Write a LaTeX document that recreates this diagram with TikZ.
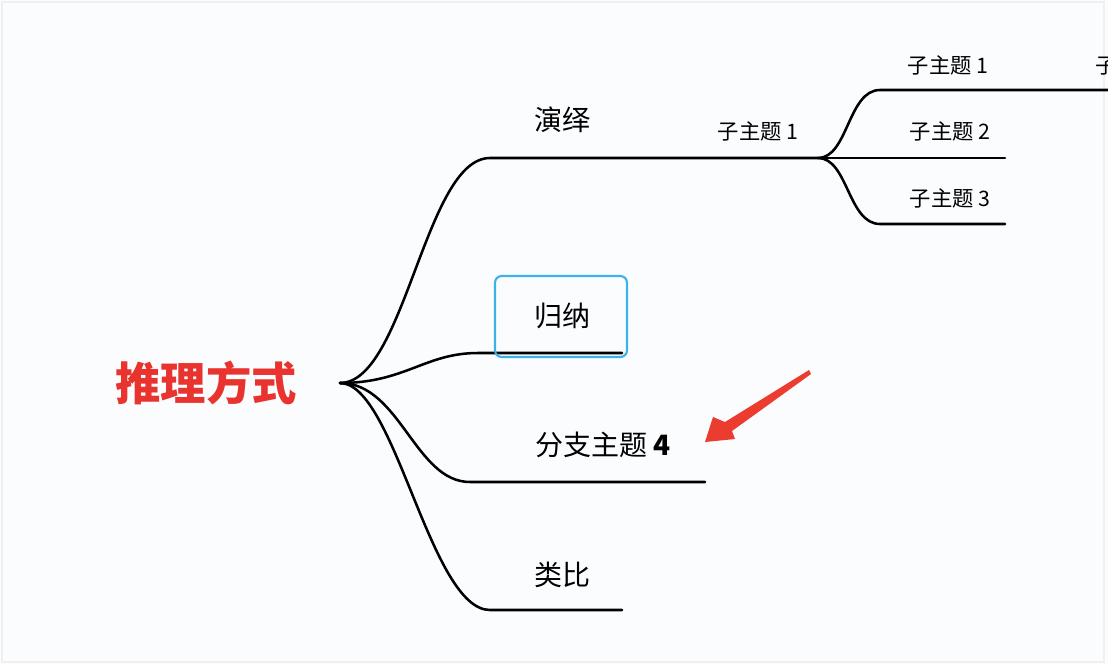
\documentclass[tikz,border=0pt]{standalone}
\usepackage{fontspec}
\setmainfont{Noto Sans CJK SC}
\usepackage{xcolor}

\definecolor{rootred}{HTML}{E8332E}
\definecolor{selblue}{HTML}{3DB2E8}
\definecolor{arrowred}{HTML}{EC3B2F}
\definecolor{paper}{HTML}{FBFCFE}

\tikzset{
    branch/.style={line width=1.9pt, line cap=round},
    maintext/.style={inner sep=0.75pt, font=\fontsize{21}{24}\selectfont},
    subtext/.style={inner sep=0.75pt, font=\fontsize{16}{19}\selectfont},
}

\begin{document}
\begin{tikzpicture}[x=0.75pt,y=0.75pt,yscale=-1,xscale=1]
    % frame of the picture
    \useasboundingbox (0,0) rectangle (1108,664);
    \fill[paper] (0,0) rectangle (1108,664);
    \draw[gray!12, line width=0.8pt] (2,2) rectangle (1104,662);

    % Root
    \node (root) at (206,383) [inner sep=0.75pt] [font=\fontsize{34}{37}\selectfont\bfseries, text=rootred] {推理方式};
    \coordinate (hub) at (340,383);

    % Ends of the main branches
    \coordinate (deduct) at (490,158);
    \coordinate (deductEnd) at (818,158);
    \coordinate (induct) at (478,353);
    \coordinate (inductEnd) at (622,353);
    \coordinate (branchFour) at (470,482);
    \coordinate (branchFourEnd) at (705,482);
    \coordinate (analog) at (490,610);
    \coordinate (analogEnd) at (622,610);

    % Main branches
    \draw[branch] (hub) .. controls (405,383) and (425,158) .. (deduct) -- (deductEnd);
    \draw[branch] (hub) .. controls (405,383) and (425,353) .. (induct) -- (inductEnd);
    \draw[branch] (hub) .. controls (400,383) and (415,482) .. (branchFour) -- (branchFourEnd);
    \draw[branch] (hub) .. controls (395,383) and (430,610) .. (analog) -- (analogEnd);

    % Labels of the main branches
    \node (deductText) at (562,120) [maintext] {演绎};
    \node (inductText) at (562,316) [maintext] {归纳};
    \node (branchFourText) at (603,445) [maintext] {分支主题 \textbf{4}};
    \node (analogText) at (562,575) [maintext] {类比};
    \node (deductSub) at (758,131) [subtext] {子主题 1};

    % Selected box round 归纳
    \draw[selblue, line width=1.6pt, rounded corners=5pt] (495,276) rectangle (627,357);

    % Sub branches
    \coordinate (subTop) at (880,90);
    \coordinate (subTopEnd) at (1112,90);
    \coordinate (subMidEnd) at (1005,158);
    \coordinate (subLow) at (880,224);
    \coordinate (subLowEnd) at (1005,224);
    \draw[branch] (deductEnd) .. controls (848,158) and (848,90) .. (subTop) -- (subTopEnd);
    \draw[branch] (deductEnd) -- (subMidEnd);
    \draw[branch] (deductEnd) .. controls (848,158) and (848,224) .. (subLow) -- (subLowEnd);

    \node (subOne) at (948,65) [subtext] {子主题 1};
    \node (subTwo) at (950,131) [subtext] {子主题 2};
    \node (subThree) at (950,198) [subtext] {子主题 3};
    \begin{scope}
        \clip (0,0) rectangle (1108,664);
        \node (subCut) at (1094,65) [subtext, anchor=west] {子主题};
    \end{scope}

    % Red arrow pointing at 分支主题 4
    \fill[arrowred] (809,370) -- (811,374) -- (732,431) -- (735,439) -- (705,442)
        -- (713,417) -- (725,422) -- cycle;
\end{tikzpicture}
\end{document}
